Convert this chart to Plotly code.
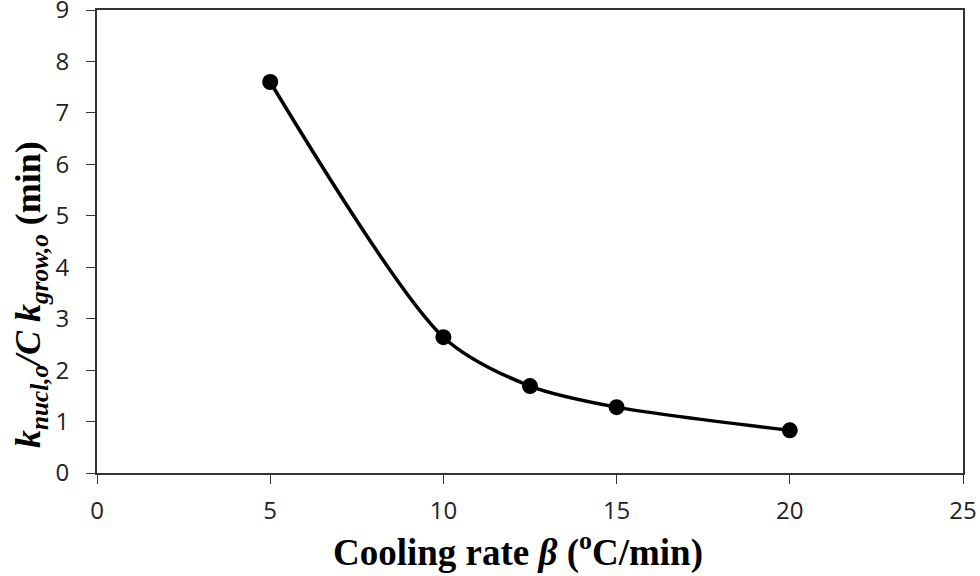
import plotly.graph_objects as go

cooling_rate = [5, 10, 12.5, 15, 20]
ratio = [7.6, 2.64, 1.69, 1.28, 0.83]
x_ticks = [0, 5, 10, 15, 20, 25]
y_ticks = [0, 1, 2, 3, 4, 5, 6, 7, 8, 9]
y_title = "<b><i>k</i><sub><i>nucl,o</i></sub><i>/C k</i><sub><i>grow,o</i></sub> (min)</b>"
x_title = "<b>Cooling rate <i>β</i> (<sup>o</sup>C/min)</b>"

L, R, T, B, W, H = 97, 17, 10, 103, 980, 576
pw, ph = W - L - R, H - T - B

fig = go.Figure()
fig.add_trace(go.Scatter(
    x=cooling_rate, y=ratio, mode="lines+markers",
    line=dict(color="black", width=3.5, shape="spline", smoothing=0.8),
    marker=dict(color="black", size=16),
    showlegend=False, cliponaxis=False,
))

tick_font = dict(family="Open Sans, Liberation Sans, sans-serif", size=24, color="#222")
title_font = dict(family="Liberation Serif, serif", size=36, color="black")
fig.update_layout(
    width=W, height=H,
    margin=dict(l=L, r=R, t=T, b=B, autoexpand=False),
    plot_bgcolor="white", paper_bgcolor="white",
)
fig.update_xaxes(
    range=[0, 25], tickvals=x_ticks, ticks="outside", ticklen=9, tickcolor="#333",
    showline=True, linecolor="#333", linewidth=2, mirror=True, showgrid=False, zeroline=False,
    tickfont=tick_font, ticklabelstandoff=6, automargin=False, ticklabeloverflow="allow",
)
fig.update_yaxes(
    range=[0, 9], tickvals=y_ticks, ticks="outside", ticklen=9, tickcolor="#333",
    showline=True, linecolor="#333", linewidth=2, mirror=True, showgrid=False, zeroline=False,
    tickfont=tick_font, ticklabelstandoff=12, automargin=False, ticklabeloverflow="allow",
)
fig.add_annotation(
    text=x_title, font=dict(title_font, size=37), showarrow=False,
    xref="paper", yref="paper", x=(518 - L) / pw, y=(H - B - 550) / ph,
    xanchor="center", yanchor="middle",
)
fig.add_annotation(
    text=y_title, textangle=-90, font=title_font, showarrow=False,
    xref="paper", yref="paper", x=(30 - L) / pw, y=(H - B - 295) / ph,
    xanchor="center", yanchor="middle",
)
fig.write_html("out.html", config={"displayModeBar": False},
               post_script="document.body.style.margin='0';")
